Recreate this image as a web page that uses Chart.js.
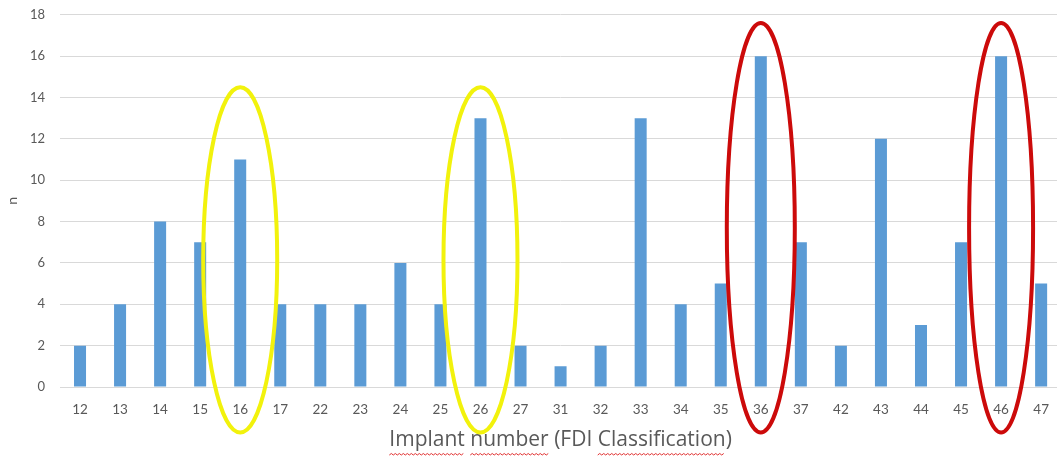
<!DOCTYPE html>
<html>
<head>
<meta charset="utf-8">
<script src="https://cdn.jsdelivr.net/npm/chart.js@4.4.1/dist/chart.umd.min.js"></script>
<style>
  html, body { margin: 0; padding: 0; background: #fff; overflow: hidden; }
  #wrap { width: 1064px; height: 461px; overflow: hidden; }
  #chart { margin-top: -8px; display: block; }
</style>
</head>
<body>
<div id="wrap"><canvas id="chart" width="1064" height="469"></canvas></div>
<script>
// FDI implant positions and counts
const teeth = ["12", "13", "14", "15", "16", "17", "22", "23", "24", "25", "26", "27", "31",
  "32", "33", "34", "35", "36", "37", "42", "43", "44", "45", "46", "47"];
const counts = [2, 4, 8, 7, 11, 4, 4, 4, 6, 4, 13, 2, 1, 2, 13, 4, 5, 16, 7, 2, 12, 3, 7, 16, 5];
const yTicks = [0, 2, 4, 6, 8, 10, 12, 14, 16, 18];

// highlighted teeth (circled in the figure)
const yellowTeeth = ["16", "26"];
const redTeeth = ["36", "46"];

const FONT = "Lato, 'Open Sans', sans-serif";
const TITLE_FONT = "'Open Sans', Lato, sans-serif";
const TITLE_SIZE = 21;
const GREY = "#595959";

// draws the hand-made ellipses around the highlighted bars
const ellipsePlugin = {
  id: "ellipses",
  afterDraw(chart) {
    const { ctx, scales: { x, y } } = chart;
    const marks = [
      ...yellowTeeth.map((t) => ({ t, top: 14.5, color: "#f2f20c", rx: 37 })),
      ...redTeeth.map((t, i) => ({ t, top: 17.6, color: "#cc0a0a", rx: i ? 32 : 34 })),
    ];
    ctx.save();
    marks.forEach((m) => {
      const cx = x.getPixelForValue(teeth.indexOf(m.t));
      const top = y.getPixelForValue(m.top);
      const bottom = y.getPixelForValue(-2.2);
      ctx.beginPath();
      ctx.ellipse(cx, (top + bottom) / 2, m.rx, (bottom - top) / 2, 0, 0, Math.PI * 2);
      ctx.strokeStyle = m.color;
      ctx.lineWidth = 4;
      ctx.stroke();
    });

    // spell-check squiggles under the axis title
    const title = x.options.title;
    ctx.font = TITLE_SIZE + "px " + TITLE_FONT;
    const text = title.text;
    const total = ctx.measureText(text).width;
    const startX = (x.left + x.right) / 2 - total / 2;
    const lineY = x.bottom - 6;
    ["Implant", "number", "Classification"].forEach((w) => {
      const idx = text.indexOf(w);
      const x0 = startX + ctx.measureText(text.slice(0, idx)).width;
      const x1 = x0 + ctx.measureText(w).width;
      ctx.beginPath();
      let up = true;
      ctx.moveTo(x0, lineY);
      for (let px = x0 + 2; px <= x1; px += 2) {
        ctx.lineTo(px, up ? lineY - 1.5 : lineY);
        up = !up;
      }
      ctx.strokeStyle = "#e03030";
      ctx.lineWidth = 1;
      ctx.stroke();
    });
    ctx.restore();
  },
};

new Chart(document.getElementById("chart"), {
  type: "bar",
  data: {
    labels: teeth,
    datasets: [{
      data: counts,
      backgroundColor: "#5b9bd5",
      barPercentage: 0.3,
      categoryPercentage: 1,
    }],
  },
  options: {
    responsive: false,
    animation: false,
    layout: { padding: { top: 6, right: 2, left: 0, bottom: 0 } },
    plugins: { legend: { display: false }, tooltip: { enabled: false } },
    scales: {
      x: {
        grid: { display: false, drawTicks: false },
        border: { color: "#d9d9d9" },
        ticks: { color: GREY, font: { family: FONT, size: 13.5 }, padding: 15, maxRotation: 0 },
        title: {
          display: true,
          text: "Implant number (FDI Classification)",
          color: GREY,
          font: { family: TITLE_FONT, size: TITLE_SIZE },
          padding: { top: 0, bottom: 8 },
        },
        afterFit: (s) => { s.height = 74; },
      },
      y: {
        min: 0,
        max: 18,
        afterBuildTicks: (s) => { s.ticks = yTicks.map((v) => ({ value: v })); },
        grid: { color: "#d9d9d9", drawTicks: false },
        border: { display: false },
        ticks: { color: GREY, font: { family: FONT, size: 13 }, padding: 15 },
        title: {
          display: true,
          text: "n",
          color: GREY,
          font: { family: FONT, size: 14 },
          padding: { top: 4, bottom: 0 },
        },
        afterFit: (s) => { s.width = 60; },
      },
    },
  },
  plugins: [ellipsePlugin],
});
</script>
</body>
</html>
